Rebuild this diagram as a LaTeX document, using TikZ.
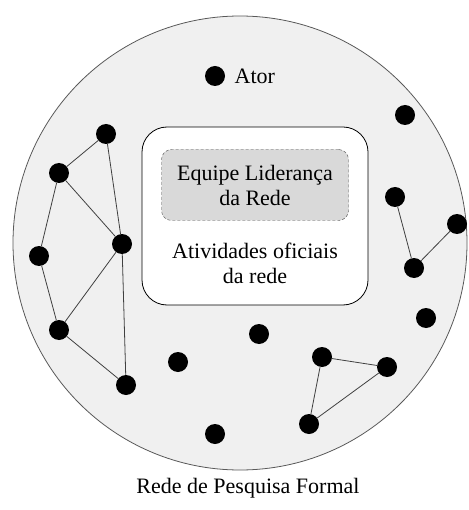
\documentclass[tikz,border=0pt]{standalone}
\usepackage{fontspec}
\setmainfont{Liberation Serif}
\usetikzlibrary{positioning}

\begin{document}
\begin{tikzpicture}[x=1pt, y=-1pt,
	actor/.style = {shape=circle, fill=black, inner sep=0pt, minimum size=20pt},
	link/.style = {draw=black!75, line width=0.8pt},
	txt/.style = {font=\fontsize{22}{25}\selectfont, align=center}]
	\useasboundingbox (0,0) rectangle (468,510);
	% network and official activities
	\node[circle, draw=black!65, line width=0.8pt, fill=black!6, minimum size=454pt] (net) at (240,243) {};
	\node[draw, line width=0.8pt, fill=white, rounded corners=25pt,
		minimum width=226pt, minimum height=178pt] (act) at (255,216) {};
	\node[txt, draw=black!70, dash pattern=on 3pt off 2pt, fill=black!15, rounded corners=10pt,
		minimum width=187pt, minimum height=71pt] (lead) at (255,185) {Equipe Liderança\\da Rede};
	\node[txt] (off) at (255,263) {Atividades oficiais\\da rede};
	% actors
	\node[actor] (ator) at (215,76) {};
	\node[txt, right=6pt of ator] (lbl) {Ator};
	\node[actor] (a1) at (106,134) {};
	\node[actor] (a2) at (59,173) {};
	\node[actor] (a3) at (39,256) {};
	\node[actor] (a4) at (122,244) {};
	\node[actor] (a5) at (59,330) {};
	\node[actor] (a6) at (126,385) {};
	\node[actor] (b1) at (395,197) {};
	\node[actor] (b2) at (457,224) {};
	\node[actor] (b3) at (414,268) {};
	\node[actor] (c1) at (322,357) {};
	\node[actor] (c2) at (387,367) {};
	\node[actor] (c3) at (309,424) {};
	\node[actor] (s1) at (405,115) {};
	\node[actor] (s2) at (426,318) {};
	\node[actor] (s3) at (259,334) {};
	\node[actor] (s4) at (178,362) {};
	\node[actor] (s5) at (215,434) {};
	% links
	\draw[link] (a1) -- (a2) (a1) -- (a4) (a2) -- (a4) (a2) -- (a3)
		(a3) -- (a5) (a5) -- (a4) (a5) -- (a6) (a4) -- (a6);
	\draw[link] (b1) -- (b3) (b2) -- (b3);
	\draw[link] (c1) -- (c2) (c1) -- (c3) (c3) -- (c2);
	\node[txt] (title) at (248,488) {Rede de Pesquisa Formal};
\end{tikzpicture}
\end{document}
